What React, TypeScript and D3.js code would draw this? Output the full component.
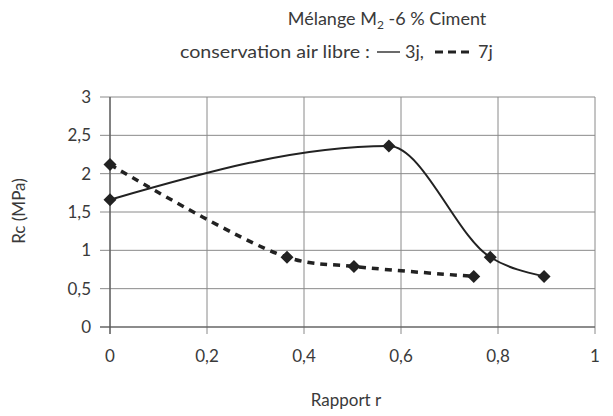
import React from "react";
import * as d3 from "d3";

const xTicks = [0, 0.2, 0.4, 0.6, 0.8, 1];
const xTickLabels = ["0", "0,2", "0,4", "0,6", "0,8", "1"];
const yTicks = [0, 0.5, 1, 1.5, 2, 2.5, 3];
const yTickLabels = ["0", "0,5", "1", "1,5", "2", "2,5", "3"];

const r3j = [0, 0.575, 0.784, 0.895];
const rc3j = [1.66, 2.36, 0.91, 0.66];
const r7j = [0, 0.365, 0.503, 0.75];
const rc7j = [2.12, 0.91, 0.79, 0.66];

const FONT = "Lato, 'Open Sans', sans-serif";

export default function App() {
  const W = 613, H = 416;
  const x = d3.scaleLinear().domain([0, 1]).range([110, 595]);
  const y = d3.scaleLinear().domain([0, 3]).range([327, 97]);
  const line3 = d3
    .line<[number, number]>()
    .x((d) => x(d[0]))
    .y((d) => y(d[1]))
    .curve(d3.curveMonotoneX);
  const line7 = d3
    .line<[number, number]>()
    .x((d) => x(d[0]))
    .y((d) => y(d[1]))
    .curve(d3.curveCatmullRom.alpha(0.5));
  const s3 = r3j.map((v, i) => [v, rc3j[i]] as [number, number]);
  const s7 = r7j.map((v, i) => [v, rc7j[i]] as [number, number]);
  const diamond = (cx: number, cy: number, k: number) =>
    `M${cx},${cy - k}L${cx + k},${cy}L${cx},${cy + k}L${cx - k},${cy}Z`;
  const ink = "#222";
  const grid = "#8a8a8a";
  const text = "#3a3a3a";
  const fs = 17;
  return (
    <svg
      width={W}
      height={H}
      style={{ position: "absolute", left: 0, top: 0, background: "#fff" }}
      fontFamily={FONT}
    >
      <rect width={W} height={H} fill="#fff" />
      {/* title */}
      <text x={387} y={25} textAnchor="middle" fontSize={18} fill={text}>
        Mélange M<tspan fontSize={12} dy={4}>2</tspan>
        <tspan dy={-4}> -6 % Ciment</tspan>
      </text>
      <g fontSize={18} fill={text}>
        <text x={180} y={58} textLength={190} lengthAdjust="spacingAndGlyphs">
          conservation air libre :
        </text>
        <line x1={377} x2={400} y1={52} y2={52} stroke={text} strokeWidth={1.5} />
        <text x={405} y={58}>3j,</text>
        <line x1={435} x2={470} y1={52} y2={52} stroke={ink} strokeWidth={3} strokeDasharray="8,5" />
        <text x={478} y={58}>7j</text>
      </g>
      {/* grid */}
      {yTicks.map((t) => (
        <line key={"gy" + t} x1={100} x2={x(1)} y1={y(t)} y2={y(t)} stroke={grid} strokeWidth={1} />
      ))}
      {xTicks.map((t) => (
        <line key={"gx" + t} x1={x(t)} x2={x(t)} y1={y(3)} y2={334} stroke={grid} strokeWidth={1} />
      ))}
      {/* axes */}
      <line x1={x(0)} x2={x(0)} y1={y(3)} y2={334} stroke="#555" strokeWidth={1.2} />
      <line x1={100} x2={x(1)} y1={y(0)} y2={y(0)} stroke="#555" strokeWidth={1.2} />
      {/* tick labels */}
      {yTicks.map((t, i) => (
        <text key={"ly" + t} x={91} y={y(t) + 6} textAnchor="end" fontSize={fs} fill={text}>
          {yTickLabels[i]}
        </text>
      ))}
      {xTicks.map((t, i) => (
        <text key={"lx" + t} x={x(t)} y={362} textAnchor="middle" fontSize={fs} fill={text}>
          {xTickLabels[i]}
        </text>
      ))}
      <text x={346} y={406} textAnchor="middle" fontSize={fs} fill={text}>
        Rapport r
      </text>
      <text
        transform={`translate(25,211) rotate(-90)`}
        textAnchor="middle"
        fontSize={fs}
        fill={text}
      >
        Rc (MPa)
      </text>
      {/* series */}
      <path d={line7(s7) || ""} fill="none" stroke={ink} strokeWidth={3.5} strokeDasharray="7,6" />
      <path d={line3(s3) || ""} fill="none" stroke={ink} strokeWidth={2} />
      {s7.map((d, i) => (
        <path key={"m7" + i} d={diamond(x(d[0]), y(d[1]), 6.5)} fill={ink} />
      ))}
      {s3.map((d, i) => (
        <path key={"m3" + i} d={diamond(x(d[0]), y(d[1]), 6.5)} fill={ink} />
      ))}
    </svg>
  );
}
